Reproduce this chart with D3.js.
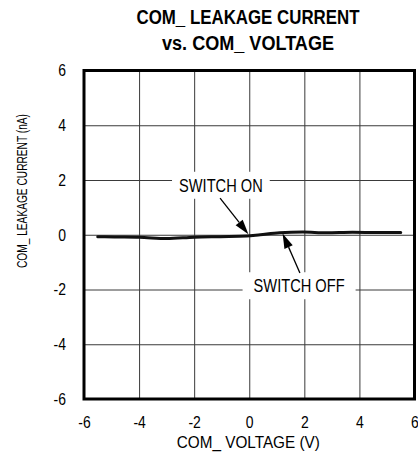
<!DOCTYPE html>
<html><head><meta charset="utf-8">
<script src="https://cdn.jsdelivr.net/npm/d3@7"></script>
<style>html,body{margin:0;padding:0;background:#fff}svg{display:block}</style>
</head><body>
<svg id="c" width="418" height="464"></svg>
<script>
// ---- data ----
const voltage = [-5.5, -4.9, -4.0, -3.0, -2.0, -1.05, -0.1, 0.4, 1.1, 1.95, 2.8, 3.75, 4.7, 5.5];
const leakage = [-0.07, -0.08, -0.09, -0.14, -0.09, -0.07, -0.05, 0.0, 0.07, 0.10, 0.07, 0.09, 0.08, 0.08];
const xTicks = [-6, -4, -2, 0, 2, 4, 6];
const yTicks = [-6, -4, -2, 0, 2, 4, 6];
const titleLines = ["COM_ LEAKAGE CURRENT", "vs. COM_ VOLTAGE"];
const xTitle = "COM_ VOLTAGE (V)";
const yTitle = "COM_ LEAKAGE CURRENT (nA)";
const annLabels = ["SWITCH ON", "SWITCH OFF"];
const annLabelX = [-1.03, 1.81];
const annLabelY = [1.57, -2.1];
const annTailX = [-1.06, 1.84];
const annTailY = [1.34, -1.40];
const annTipX = [-0.03, 1.21];
const annTipY = [0.02, 0.05];

// ---- layout ----
const svg = d3.select("#c");
const L = 84, R = 414.5, T = 70.5, B = 399;
const x = d3.scaleLinear().domain([-6, 6]).range([L, R]);
const y = d3.scaleLinear().domain([-6, 6]).range([B, T]);
const FONT = "'Liberation Sans', Arial, sans-serif";
const NARROW = 0.82;
const fmt = d => String(d); // plain hyphen-minus like the reference

function narrow(sel, factor) {
  sel.each(function () {
    const n = this.getComputedTextLength();
    d3.select(this).attr("textLength", n * factor).attr("lengthAdjust", "spacingAndGlyphs");
  });
}

// grid
svg.append("g").attr("transform", `translate(0,${B})`)
  .call(d3.axisBottom(x).tickValues(xTicks).tickSize(-(B - T)).tickFormat(""))
  .call(g => g.select(".domain").remove())
  .call(g => g.selectAll("line").attr("stroke", "#3a3a3a").attr("stroke-width", 1));
svg.append("g").attr("transform", `translate(${L},0)`)
  .call(d3.axisLeft(y).tickValues(yTicks).tickSize(-(R - L)).tickFormat(""))
  .call(g => g.select(".domain").remove())
  .call(g => g.selectAll("line").attr("stroke", "#3a3a3a").attr("stroke-width", 1));

// tick labels
const xl = svg.append("g").attr("transform", `translate(0,${B})`)
  .call(d3.axisBottom(x).tickValues(xTicks).tickSize(0).tickPadding(17).tickFormat(fmt));
xl.select(".domain").remove();
xl.selectAll("text").attr("font-family", FONT).attr("font-size", 17).attr("fill", "#000").call(narrow, NARROW);
const yl = svg.append("g").attr("transform", `translate(${L},0)`)
  .call(d3.axisLeft(y).tickValues(yTicks).tickSize(0).tickPadding(18).tickFormat(fmt));
yl.select(".domain").remove();
yl.selectAll("text").attr("font-family", FONT).attr("font-size", 17).attr("fill", "#000").call(narrow, NARROW);

// annotation boxes (white) + labels
const padX = [7, 11];
annLabels.forEach((t, i) => {
  const cx = x(annLabelX[i]), by = y(annLabelY[i]);
  const g = svg.append("g");
  const rect = g.append("rect").attr("fill", "#fff");
  const tx = g.append("text").text(t).attr("x", cx).attr("y", by)
    .attr("text-anchor", "middle").attr("font-family", FONT).attr("font-size", 19).attr("fill", "#000");
  narrow(tx, 0.77);
  const w = +tx.attr("textLength");
  rect.attr("x", cx - w / 2 - padX[i]).attr("width", w + 2 * padX[i])
    .attr("y", by - 20).attr("height", 27);
});

// curve
svg.append("path").datum(voltage.map((v, i) => [v, leakage[i]]))
  .attr("fill", "none").attr("stroke", "#111").attr("stroke-width", 3)
  .attr("stroke-linecap", "round").attr("stroke-linejoin", "round")
  .attr("d", d3.line().x(d => x(d[0])).y(d => y(d[1])).curve(d3.curveMonotoneX));

// arrows
annLabels.forEach((t, i) => {
  const x0 = x(annTailX[i]), y0 = y(annTailY[i]), x1 = x(annTipX[i]), y1 = y(annTipY[i]);
  const dx = x1 - x0, dy = y1 - y0, len = Math.hypot(dx, dy), ux = dx / len, uy = dy / len;
  const hl = 15, hw = 4.5;
  const bx = x1 - ux * hl, byy = y1 - uy * hl;
  svg.append("line").attr("x1", x0).attr("y1", y0).attr("x2", bx).attr("y2", byy)
    .attr("stroke", "#000").attr("stroke-width", 1.3);
  svg.append("path").attr("fill", "#000")
    .attr("d", `M${x1},${y1}L${bx - uy * hw},${byy + ux * hw}L${bx + uy * hw},${byy - ux * hw}Z`);
});

// frame
svg.append("rect").attr("x", L).attr("y", T).attr("width", R - L).attr("height", B - T)
  .attr("fill", "none").attr("stroke", "#000").attr("stroke-width", 3);

// titles
const tw = [223, 172], tb = [24, 50];
titleLines.forEach((t, i) => {
  svg.append("text").text(t).attr("x", 248).attr("y", tb[i]).attr("text-anchor", "middle")
    .attr("font-family", FONT).attr("font-weight", "bold").attr("font-size", 20).attr("fill", "#000")
    .attr("textLength", tw[i]).attr("lengthAdjust", "spacingAndGlyphs");
});
svg.append("text").text(xTitle).attr("x", 248.3).attr("y", 448).attr("text-anchor", "middle")
  .attr("font-family", FONT).attr("font-size", 16.5).attr("fill", "#000")
  .attr("textLength", 143).attr("lengthAdjust", "spacingAndGlyphs");
svg.append("text").text(yTitle).attr("transform", "translate(27,191) rotate(-90)").attr("text-anchor", "middle")
  .attr("font-family", FONT).attr("font-size", 15.5).attr("fill", "#000")
  .attr("textLength", 154).attr("lengthAdjust", "spacingAndGlyphs");
</script>
</body></html>
